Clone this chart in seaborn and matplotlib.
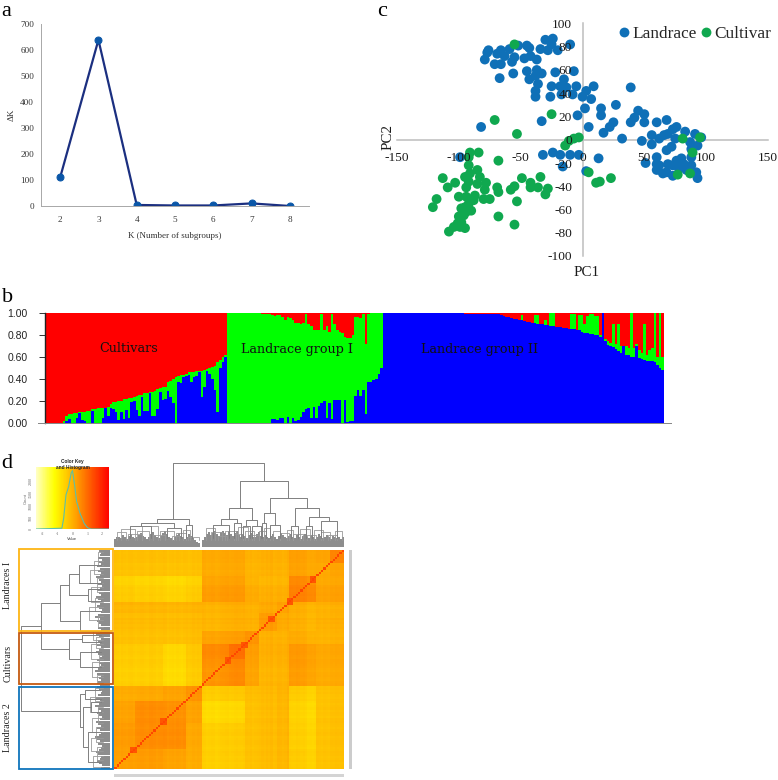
import numpy as np
import pandas as pd
import matplotlib
matplotlib.use("Agg")
import matplotlib.pyplot as plt
from matplotlib.colors import LinearSegmentedColormap
from matplotlib.patches import Rectangle
import seaborn as sns

W, H = 778, 780

# panel a
k_values = [2, 3, 4, 5, 6, 7, 8]
delta_k = [110, 640, 4, 2, 2, 10, 0]

# panel c, PCA
land_pc1 = [-79, -77, -76, -69, -66, -71, -66, -67, -63, -59, -56, -57, -55, -52, -45, -43, -47, -42, -37, -34,
            -30, -24, -25, -28, -20, -10, -45, -37, -33, -43, -38, -36, -38, -38, -22, -7, -15, -25, -18, -13,
            -5, -26, -17, -8, 0, 3, 9, 7, 2, -4, -33, -82, 5, 39, 27, 15, 15, 25, 22, 17,
            32, 45, 42, 50, 39, 50, 60, 68, 48, 56, 56, 62, 66, 69, 73, 76, 83, 75, 91, 96,
            93, 87, 88, 72, 68, -32, -24, -18, -10, -3, 13, -16, 3, -99, 51, 60, 60, 60, 65, 69,
            73, 76, 80, 82, 88, 92, 93, 73, 68, 78, 84, 88, 62]
land_pc2 = [69, 75, 77, 74, 77, 65, 65, 53, 72, 78, 57, 67, 71, 81, 81, 79, 70, 72, 69, 78,
            86, 87, 82, 77, 77, 82, 59, 60, 57, 52, 55, 48, 42, 37, 58, 59, 52, 46, 46, 45,
            46, 37, 39, 39, 37, 42, 46, 35, 27, 21, 16, 11, 11, 45, 30, 27, 21, 15, 11, 6,
            1, 25, 19, 22, 15, 15, 15, 17, -1, 4, -4, 1, 4, 5, 9, 11, 7, 1, 5, 2,
            -5, -2, -8, -6, -9, -13, -11, -13, -13, -13, -16, -23, -27, -15, -20, -15, -21, -26, -29, -21,
            -22, -18, -16, -21, -22, -28, -33, -31, -28, -25, -26, -15, -22]
cult_pc1 = [-55, -25, -71, -53, -3, -7, -11, -14, 81, 95, 89, 77, 87, 5, 11, 14, 23,
            -91, -84, -92, -68, -92, -113, -103, -109, -118, -121, -49, -34, -42, -42, -36, -28, -30, -55, -58,
            -53, -68, -55, -69, -68, -78, -79, -85, -94, -100, -94, -87, -80, -75, -85, -91, -95, -92, -88,
            -92, -95, -90, -100, -96, -94, -98, -101, -95, -104, -108, -99, -91, -98, -83]
cult_pc2 = [82, 22, 17, 5, 2, 1, -1, -5, 1, 2, -11, -30, -29, -28, -37, -36, -33,
            -11, -11, -15, -18, -22, -33, -37, -41, -51, -58, -33, -32, -37, -41, -41, -42, -47, -40, -43,
            -53, -66, -73, -41, -45, -37, -43, -38, -41, -49, -49, -48, -51, -51, -26, -29, -32, -36, -52,
            -55, -58, -61, -66, -65, -62, -71, -72, -76, -75, -79, -75, -52, -59, -32]

# panel b, cumulative share per individual: blue, then blue + green, red fills up to 1
cult_blue = [0, 0, 0, 0, 0, 0, 0, 0, .02, .04, 0, 0, .05, .09, .03, .02, 0, 0, .11, 0,
             0, 0, .05, .14, .07, .14, .13, .10, .03, .10, .04, .12, .05, .19, .20, .12, .07, .24, .11, .11,
             .27, .07, .07, .13, .28, .21, .22, .29, .24, .18, 0, .37, .36, .42, .43, .44, .37, .42, .43, .46,
             .24, .33, .47, .45, .40, .30, .10, .50, .55, .60]
cult_green = [0, 0, 0, 0, 0, 0, 0, .02, .07, .08, .08, .09, .09, .10, .10, .10, .11, .11, .13, .13,
              .14, .14, .14, .14, .15, .17, .19, .19, .20, .20, .22, .22, .23, .23, .24, .25, .26, .26, .27, .27,
              .28, .28, .29, .31, .32, .33, .33, .37, .38, .40, .42, .43, .44, .44, .45, .46, .46, .46, .47, .47,
              .47, .48, .49, .50, .51, .52, .55, .57, .60, .62]
land1_blue = [0, 0, 0, 0, 0, 0, 0, 0, 0, 0, 0, 0, 0, 0, 0, 0, 0, .04, .04, .03,
              .05, .05, 0, .06, 0, .05, .02, .03, .06, .10, .13, .14, .05, .15, .05, .16, .18, .20, .05, .18,
              .04, .21, .21, .21, 0, .21, .01, .02, .02, .25, .30, .25, .30, .08, .37, .37, .39, .40, .45, .50]
land1_green = [1, 1, 1, 1, 1, 1, 1, 1, 1, 1, 1, 1, .995, .99, .99, .99, .99, .98, .97, .98,
               .98, .96, .93, .96, .95, .93, .91, .91, .90, .91, .99, .90, .88, .84, .84, .84, .99, .84, .88, .83,
               .99, .90, .84, .83, .82, .78, .77, .77, .80, .96, .96, .95, .99, .72, .99, 1, 1, 1, 1, 1]
land2_blue = [1, 1, 1, 1, 1, 1, 1, 1, 1, 1, 1, 1, 1, 1, 1, 1, 1, 1, 1, 1, 1, 1, 1, 1,
              .995, .995, .995, .995, .995, .995, .995, .99, .99, .99, .99, .99, .99, .99,
              .985, .985, .985, .985, .985, .985, .985, .98, .97, .965, .96, .95, .945, .94, .935,
              .93, .925, .92, .915, .91, .905, .90, .90, .895, .89, .885, .88, .88, .875, .87, .87, .865,
              .86, .855, .85, .85, .84, .84, .83, .82, .82, .81, .81, .80, .80, .78, 1, .74, .71, .70,
              .69, .67, .65, .64, .70, .62, .62, .60, .60, .70, .59, .58, .57, .56, .56, .56, .55, .53, .50, .48]
land2_green = [1, 1, 1, 1, 1, 1, 1, 1, 1, 1, 1, 1, 1, 1, 1, 1, 1, 1, 1, 1, 1, 1, 1, 1,
               .995, .995, .995, .995, .995, .995, .995, .99, .99, .99, .99, .99, .99, .99,
               .985, .985, .985, .985, .985, .985, .985, .98, .97, .965, .96, .95, .945, .94, .935,
               .98, .925, .92, .915, .91, .98, .98, .90, .895, .93, .885, 1, 1, .875, .87, .87, .865,
               .86, .855, .99, .99, .84, .98, .98, .90, .97, .99, .99, .97, .97, .80, 1, .76, .74, .73,
               .90, .72, .90, .70, .70, .70, .68, 1, .68, .72, .66, .64, .90, .62, .66, .68, 1, .60, 1, .60]

# panel d, kinship blocks (same order on rows and columns)
block_sizes = [9, 12, 10, 7, 12, 7, 6, 8, 5, 12, 6, 6]
block_values = [
    [.25, .30, .20, .05, -.50, -.50, -.28, -.22, -.12, -.50, -.30, -.30],
    [.30, .50, .50, .10, -.50, -.50, -.28, -.22, -.12, -.55, -.30, -.28],
    [.20, .50, .45, .20, -.70, -.70, -.28, -.22, -.12, -.62, -.30, -.28],
    [.05, .10, .20, .42, -.45, -.45, -.22, -.18, -.08, -.50, -.28, -.28],
    [-.50, -.50, -.70, -.45, .38, .48, .18, -.12, -.08, .22, .05, .05],
    [-.50, -.50, -.70, -.45, .48, .80, .22, -.08, -.05, .22, .05, .05],
    [-.28, -.28, -.28, -.22, .18, .22, .42, -.05, -.05, .00, -.08, -.08],
    [-.22, -.22, -.22, -.18, -.12, -.08, -.05, .28, .05, -.08, -.05, -.05],
    [-.12, -.12, -.12, -.08, -.08, -.05, -.05, .05, .18, -.05, -.05, -.05],
    [-.50, -.55, -.62, -.50, .22, .22, .00, -.08, -.05, .55, .15, .15],
    [-.30, -.30, -.30, -.28, .05, .05, -.08, -.05, -.05, .15, .10, .15],
    [-.30, -.28, -.28, -.28, .05, .05, -.08, -.05, -.05, .15, .15, .55],
]
# small per-individual shifts, they give the fine grid inside the blocks
row_shift = [.02, 0, -.03, .03, 0, -.02, .02, .04, 0, -.03, 0, .03, .03, 0, -.02, .04, .05, .02, -.03, 0,
             .02, .05, .03, -.04, 0, .02, -.02, .03, 0, -.03, .02, 0, -.04, -.02, .03, 0, .04, .02, .05, .03,
             -.02, 0, .03, .02, -.03, 0, .04, .05, .07, .08, .03, .05, .08, .09, .07, .06, .09, .02, 0, .03,
             -.03, 0, .02, -.02, .03, 0, .06, .02, .08, -.02, 0, .03, .02, -.03, 0, .08, .09, .07, .06, .10,
             .08, .05, .07, .03, -.06, -.05, -.07, -.04, .02, 0, -.03, .02, 0, -.02, .04, .03, .06, .05, .04, .06]
diagonal_value = 1.5
hot_cells = [8, 21, 49, 56, 68, 76, 86]

hist_value = [-2.5, -.72, -.6, -.44, -.26, -.09, 0, .14, .28, .51, .79, 1.02, 1.26, 2.5]
hist_count = [0, 30, 420, 1350, 1670, 2200, 2300, 1740, 1080, 620, 225, 50, 0, 0]

# dendrograms as [height, child, child], a leaf is [position]
top_tree = [99,
            [33,
             [28, [25, [7], [16]], [22, [23], [29]]],
             [26, [31], [34]]],
            [78,
             [46,
              [33, [26, [43], [50]], [28, [52], [55]]],
              [31, [24, [56], [59]], [25, [60], [64]]]],
             [57,
              [40, [28, [64.5], [66]], [26, [68], [72]]],
              [46,
               [25, [77], [80]],
               [35, [25, [83.5], [86]], [30, [90], [97]]]]]]]
left_tree = [99,
             [34,
              [28, [36], [32]],
              [30, [22, [30.5], [26]], [25, [17], [3]]]],
             [77,
              [56,
               [46, [35, [93], [85]], [25, [82], [76.5]]],
               [34, [72], [63]]],
              [46, [31, [61], [58]], [34, [53.5], [46.5]]]]]

# small brackets between the big branches and the leaf band: from, to, height
top_minor = [(1, 5, 17), (3, 9, 21), (6, 12, 15), (10, 15, 19), (12, 19, 24), (17, 22, 14), (20, 26, 18),
             (25, 28, 13), (27, 31, 16), (30, 33, 20), (32, 37, 12), (40, 44, 22), (42, 47, 17), (45, 49, 13),
             (48, 53, 19), (52, 56, 15), (54, 58, 23), (57, 61, 18), (60, 63, 14), (63, 66, 19), (65, 68, 22),
             (69, 72, 18), (72, 76, 16), (75, 78, 20), (78, 82, 15), (81, 85, 21), (84, 88, 14), (87, 91, 20),
             (90, 94, 17), (93, 97, 14), (96, 99, 18)]
left_minor = [(1, 6, 19), (4, 10, 15), (8, 14, 22), (12, 19, 16), (17, 23, 20), (21, 28, 14), (26, 33, 23),
              (31, 37, 17), (39, 43, 15), (42, 49, 20), (47, 52, 13), (50, 57, 22), (55, 60, 16), (59, 63, 19),
              (65, 70, 14), (68, 74, 24), (72, 78, 17), (76, 83, 21), (81, 87, 15), (85, 91, 23), (89, 95, 18),
              (93, 99, 14)]

top_fuzz = [9, 11, 12, 10, 14, 12, 9, 13, 15, 11, 10, 12, 14, 16, 13, 11, 9, 12, 15, 17,
            14, 12, 10, 13, 16, 18, 15, 12, 10, 8, 11, 14, 16, 13, 11, 9, 12, 15, 13, 10,
            8, 6, 4, 0, 8, 12, 15, 17, 14, 16, 18, 15, 13, 17, 19, 16, 14, 18, 15, 13,
            16, 18, 14, 12, 15, 13, 10, 14, 16, 12, 11, 15, 17, 13, 11, 14, 12, 10, 13, 15,
            11, 9, 13, 16, 14, 12, 10, 13, 15, 12, 10, 14, 12, 9, 13, 15, 11, 10, 14, 12,
            9, 12, 15, 13, 10, 12, 14, 11, 9, 13, 11, 10, 12, 9, 11]
left_fuzz = [11, 9, 13, 15, 12, 10, 14, 16, 13, 11, 9, 14, 12, 15, 17, 13, 10, 12, 15, 11,
             14, 16, 12, 9, 13, 15, 11, 14, 17, 13, 10, 12, 16, 14, 11, 9, 13, 15, 12, 14,
             10, 13, 11, 15, 17, 14, 12, 10, 13, 15, 12, 9, 14, 16, 13, 11, 15, 12, 14, 10,
             13, 16, 12, 10, 14, 11, 13, 15, 12, 17, 14, 11, 9, 13, 15, 12, 10, 14, 16, 11,
             13, 15, 12, 9, 14, 11, 13, 16, 12, 10, 14, 12, 15, 11, 13, 9, 14, 12, 10, 13]


def axes_px(fig, x0, y0, x1, y1):
    return fig.add_axes([x0 / W, 1 - y1 / H, (x1 - x0) / W, (y1 - y0) / H])


def text_px(fig, x, y, s, **kw):
    fig.text(x / W, 1 - y / H, s, **kw)


def box_px(fig, x0, y0, x1, y1, **kw):
    fig.add_artist(Rectangle((x0 / W, 1 - y1 / H), (x1 - x0) / W, (y1 - y0) / H,
                             transform=fig.transFigure, **kw))


def draw_tree(ax, node, flip, leaf_h):
    if len(node) == 1:
        return node[0], leaf_h
    h = node[0]
    pa, ha = draw_tree(ax, node[1], flip, leaf_h)
    pb, hb = draw_tree(ax, node[2], flip, leaf_h)
    pos = [pa, pa, pb, pb]
    hs = [ha, h, h, hb]
    if flip:
        ax.plot(hs, pos, color="#808080", lw=0.7)
    else:
        ax.plot(pos, hs, color="#808080", lw=0.7)
    return (pa + pb) / 2, h


def draw_minor(ax, brackets, flip):
    for a, b, h in brackets:
        pos = [a, a, b, b]
        hs = [8, h, h, 8]
        if flip:
            ax.plot(hs, pos, color="#9a9a9a", lw=0.6)
        else:
            ax.plot(pos, hs, color="#9a9a9a", lw=0.6)


def draw_fuzz(ax, heights, flip):
    step = 100 / len(heights)
    for i, h in enumerate(heights):
        p = (i + 0.5) * step
        if flip:
            ax.plot([0, h], [p, p], color="#7c7c7c", lw=1.25, solid_capstyle="butt")
        else:
            ax.plot([p, p], [0, h], color="#7c7c7c", lw=1.25, solid_capstyle="butt")


sns.set_theme(style="white")
plt.rcParams["font.family"] = ["Liberation Serif", "DejaVu Sans"]
plt.rcParams["axes.unicode_minus"] = False

fig = plt.figure(figsize=(W / 100, H / 100), dpi=100)

# a
ax = axes_px(fig, 41, 24.3, 309, 206)
sns.lineplot(x=k_values, y=delta_k, color="#1b2f80", lw=1.6, marker="o", markersize=5,
             markerfacecolor="#0b57a8", markeredgecolor="#0b57a8", ax=ax)
ax.set_xlim(1.5, 8.5)
ax.set_ylim(0, 700)
ax.set_yticks(range(0, 701, 100))
ax.set_xticks(k_values)
ax.tick_params(length=0, labelsize=6.6, labelcolor="#333333")
ax.tick_params(axis="x", pad=7)
ax.tick_params(axis="y", pad=5)
ax.set_xlabel("K (Number of subgroups)", fontsize=6.5, color="#333333", labelpad=6)
ax.set_ylabel("ΔK", fontsize=6.6, color="#333333", labelpad=3)
sns.despine(ax=ax)
for s in ["left", "bottom"]:
    ax.spines[s].set_color("#a8a8a8")
    ax.spines[s].set_linewidth(0.7)

# c
pca = pd.DataFrame({
    "pc1": land_pc1 + cult_pc1,
    "pc2": land_pc2 + cult_pc2,
    "group": ["Landrace"] * len(land_pc1) + ["Cultivar"] * len(cult_pc1),
})
ax = axes_px(fig, 397, 23.5, 768, 256)
ax.patch.set_alpha(0)
sns.scatterplot(data=pca, x="pc1", y="pc2", hue="group",
                palette={"Landrace": "#0f70b7", "Cultivar": "#10a84f"},
                s=50, linewidth=0, ax=ax)
ax.set_xlim(-150, 150)
ax.set_ylim(-100, 100)
ax.set_xticks(range(-150, 151, 50))
ax.set_yticks(range(-100, 101, 20))
ax.set_axisbelow(False)
for s in ["left", "bottom"]:
    ax.spines[s].set_position("zero")
    ax.spines[s].set_color("#bdbdbd")
    ax.spines[s].set_linewidth(1.1)
    ax.spines[s].set_zorder(0.5)
ax.spines["top"].set_visible(False)
ax.spines["right"].set_visible(False)
ax.tick_params(length=0, labelsize=9.6, labelcolor="#1a1a1a")
ax.tick_params(axis="x", pad=8.5)
ax.tick_params(axis="y", pad=7.5)
ax.set_xlabel("")
ax.set_ylabel("")
ax.legend(title=None, frameon=False, ncol=2, fontsize=12.4, loc="upper right",
          bbox_to_anchor=(1.028, 1.019), handlelength=0.9, handletextpad=0.03, columnspacing=0.1,
          borderaxespad=0)
text_px(fig, 586.5, 273, "PC1", fontsize=10.8, ha="center", va="center", color="#1a1a1a")
text_px(fig, 388, 137, "PC2", fontsize=10.8, ha="center", va="center", rotation=90, color="#1a1a1a")

# b
blue = cult_blue + land1_blue + land2_blue
green = cult_green + land1_green + land2_green
struct = pd.DataFrame({"ind": range(len(blue)), "blue": blue, "green": green, "red": 1.0})
ax = axes_px(fig, 44.5, 312.7, 664, 423.3)
for col, c in [("red", "#ff0000"), ("green", "#00ff00"), ("blue", "#0000ff")]:
    sns.barplot(data=struct, x="ind", y=col, color=c, width=1, saturation=1, linewidth=0,
                antialiased=False, ax=ax)
ax.set_xlim(-0.5, len(blue) - 0.5)
ax.set_ylim(0, 1)
ax.set_yticks([0, .2, .4, .6, .8, 1])
ax.set_yticklabels(["0.00", "0.20", "0.40", "0.60", "0.80", "1.00"], family="Liberation Sans", fontsize=7.5,
                   color="#222222")
ax.set_xticks([])
ax.set_xlabel("")
ax.set_ylabel("")
ax.tick_params(axis="y", left=True, length=4.3, width=0.7, color="#333333", pad=8)
sns.despine(ax=ax)
ax.spines["left"].set_color("#222222")
ax.spines["left"].set_linewidth(1)
ax.spines["bottom"].set_visible(False)
box_px(fig, 38, 423, 672, 424, color="#888888", lw=0)
for x, label in [(129, "Cultivars"), (297, "Landrace group I"), (480, "Landrace group II")]:
    text_px(fig, x, 349, label, family="DejaVu Serif", fontsize=9.2, ha="center", va="center", color="#111111")

# d, heatmap
ramp = LinearSegmentedColormap.from_list(
    "key", [(0, "#ffffc8"), (.25, "#ffff00"), (.55, "#ffa000"), (1, "#ff0000")])
idx = np.repeat(np.arange(len(block_sizes)), block_sizes)
kin = np.array(block_values)[np.ix_(idx, idx)]
shift = np.array(row_shift)
kin = kin + shift[:, None] + shift[None, :]
for i in hot_cells:
    kin[i - 1:i + 2, i - 1:i + 2] = 1.3
np.fill_diagonal(kin, diagonal_value)
ax = axes_px(fig, 114.3, 550, 344, 768.7)
sns.heatmap(kin, cmap=ramp, vmin=-2.5, vmax=2.5, cbar=False, xticklabels=False, yticklabels=False, ax=ax)
ax.invert_yaxis()

# dendrograms
ax = axes_px(fig, 114.3, 462, 344, 546.7)
draw_fuzz(ax, top_fuzz, False)
draw_minor(ax, top_minor, False)
draw_tree(ax, top_tree, False, 10)
ax.set_xlim(0, 100)
ax.set_ylim(0, 100)
ax.axis("off")

ax = axes_px(fig, 20, 550, 110.5, 768.7)
draw_fuzz(ax, left_fuzz, True)
draw_minor(ax, left_minor, True)
draw_tree(ax, left_tree, True, 10)
ax.set_xlim(100, 0)
ax.set_ylim(0, 100)
ax.axis("off")

# colour key and histogram
ax = axes_px(fig, 35.7, 467, 109.3, 529)
sns.heatmap(np.linspace(-2.5, 2.5, 200).reshape(1, -1), cmap=ramp, vmin=-2.5, vmax=2.5, cbar=False,
            xticklabels=False, yticklabels=False, ax=ax)
ax = axes_px(fig, 35.7, 467, 109.3, 529)
ax.patch.set_alpha(0)
sns.lineplot(x=hist_value, y=hist_count, color="#5cc0a8", lw=0.8, ax=ax)
ax.set_xlim(-2.5, 2.5)
ax.set_ylim(0, 2440)
ax.set_xticks([-2, -1, 0, 1, 2])
ax.set_yticks([0, 500, 1000, 1500, 2000])
ax.tick_params(length=1, width=0.3, labelsize=3, labelcolor="#666666", color="#666666", pad=1)
ax.tick_params(axis="y", labelrotation=90)
ax.set_xlabel("Value", fontsize=3, color="#444444", labelpad=1, family="Liberation Sans")
ax.set_ylabel("Count", fontsize=3, color="#666666", labelpad=1, family="Liberation Sans")
for s in ax.spines.values():
    s.set_visible(False)
text_px(fig, 72.5, 469.5, "Color Key\nand Histogram", fontsize=3.4, fontweight="bold", family="Liberation Sans",
        ha="center", va="bottom", color="#222222", linespacing=1.15, zorder=5)

# cluster boxes and labels
box_px(fig, 18.5, 548.5, 113, 631, fill=False, ec="#fdb515", lw=1.3)
box_px(fig, 18.5, 632.5, 113, 684, fill=False, ec="#c55a11", lw=1.3)
box_px(fig, 18.5, 687, 113, 768.8, fill=False, ec="#0f75bc", lw=1.3)
for y, label in [(585, "Landraces I"), (663, "Cultivars"), (728, "Landraces 2")]:
    text_px(fig, 8, y, label, fontsize=7.2, rotation=90, ha="center", va="center", color="#222222")

# row and column label strips, too small to read in the original
box_px(fig, 348.5, 550, 351.5, 769, color="#cccccc", lw=0)
box_px(fig, 114, 773.5, 344, 776.5, color="#d4d4d4", lw=0)

# panel letters
for x, y, s in [(1, 15.5, "a"), (2, 302, "b"), (377, 15.5, "c"), (1, 468, "d")]:
    text_px(fig, x, y, s, fontsize=16, ha="left", va="baseline", color="black")

fig.savefig("out.png", dpi=100)
